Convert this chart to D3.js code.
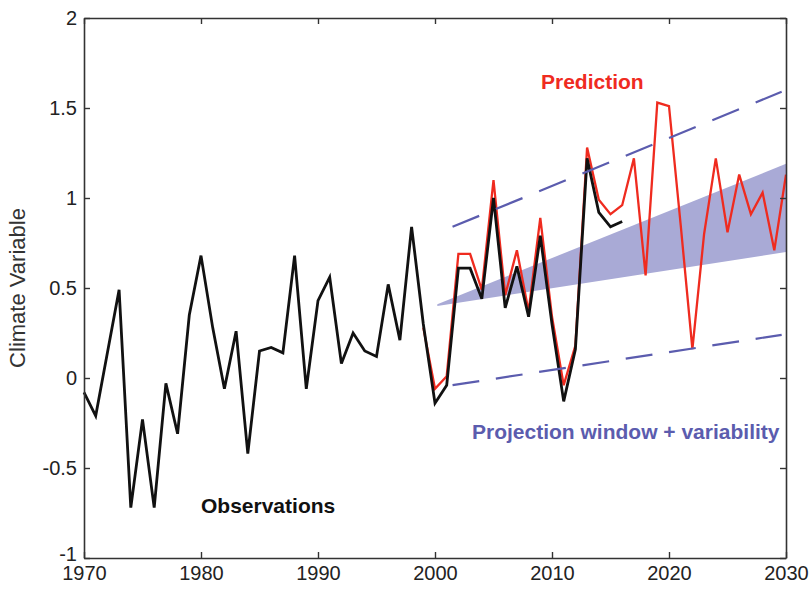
<!DOCTYPE html>
<html>
<head>
<meta charset="utf-8">
<script src="https://cdn.jsdelivr.net/npm/d3@7"></script>
<style>
  html, body { margin: 0; padding: 0; background: #fff; }
  svg { display: block; }
  text { font-family: "Liberation Sans", Arial, Helvetica, sans-serif; }
</style>
</head>
<body>
<svg id="chart" width="810" height="589"></svg>
<script>
// Observed series, 1970-2016
const obsYears = d3.range(1970, 2017);
const obsValues = [
  -0.08, -0.21, 0.14, 0.49, -0.72, -0.23, -0.72, -0.03, -0.31, 0.35,
   0.68,  0.28, -0.06, 0.26, -0.42, 0.15, 0.17, 0.14, 0.68, -0.06,
   0.43,  0.56, 0.08, 0.25, 0.15, 0.12, 0.52, 0.21, 0.84, 0.30,
  -0.14, -0.04, 0.61, 0.61, 0.44, 1.00, 0.39, 0.62, 0.34, 0.79,
   0.30, -0.13, 0.16, 1.22, 0.92, 0.84, 0.87
];

// Prediction series, 1999-2030
const predYears = d3.range(1999, 2031);
const predValues = [
   0.28, -0.06, 0.01, 0.69, 0.69, 0.49, 1.10, 0.46, 0.71, 0.37,
   0.89,  0.34, -0.04, 0.18, 1.28, 0.99, 0.91, 0.96, 1.22, 0.57,
   1.53,  1.51, 0.85, 0.16, 0.80, 1.22, 0.81, 1.13, 0.91, 1.03,
   0.71,  1.13
];

// Projection window (shaded wedge)
const bandYears = [2000.2, 2030];
const bandLower = [0.40, 0.70];
const bandUpper = [0.41, 1.19];

// Variability envelope (dashed lines)
const envYears = [2001.5, 2029.63];
const envUpper = [0.84, 1.59];
const envLower = [-0.04, 0.24];

// Axis ticks
const xTicks = [1970, 1980, 1990, 2000, 2010, 2020, 2030];
const yTicks = [-1, -0.5, 0, 0.5, 1, 1.5, 2];

const svg = d3.select("#chart");
const plotLeft = 84, plotRight = 786, plotTop = 18, plotBottom = 558;

const x = d3.scaleLinear().domain([1970, 2030]).range([plotLeft, plotRight]);
const y = d3.scaleLinear().domain([-1, 2]).range([plotBottom, plotTop]);

const blue = "#5b5cae";
const red = "#ef2b1f";

// shaded projection window
const band = bandYears.map((yr, i) => ({ yr, lo: bandLower[i], hi: bandUpper[i] }));
svg.append("path")
  .datum(band)
  .attr("fill", "#a9aad6")
  .attr("d", d3.area().x(d => x(d.yr)).y0(d => y(d.lo)).y1(d => y(d.hi)));

const line = d3.line().x(d => x(d[0])).y(d => y(d[1]));

// prediction
svg.append("path")
  .datum(predYears.map((yr, i) => [yr, predValues[i]]))
  .attr("fill", "none")
  .attr("stroke", red)
  .attr("stroke-width", 2.3)
  .attr("stroke-linejoin", "miter")
  .attr("d", line);

// observations
svg.append("path")
  .datum(obsYears.map((yr, i) => [yr, obsValues[i]]))
  .attr("fill", "none")
  .attr("stroke", "#111")
  .attr("stroke-width", 2.8)
  .attr("stroke-linejoin", "miter")
  .attr("d", line);

// variability envelope
svg.append("path")
  .datum(envYears.map((yr, i) => [yr, envUpper[i]]))
  .attr("fill", "none")
  .attr("stroke", blue)
  .attr("stroke-width", 2.2)
  .attr("stroke-dasharray", "28.8 18")
  .attr("d", line);
svg.append("path")
  .datum(envYears.map((yr, i) => [yr, envLower[i]]))
  .attr("fill", "none")
  .attr("stroke", blue)
  .attr("stroke-width", 2.2)
  .attr("stroke-dasharray", "27 16.8")
  .attr("d", line);

// axes: box with inward ticks on every side
const axisColor = "#333";
const fmtY = d => String(d);

const gBottom = svg.append("g").attr("transform", `translate(0,${plotBottom})`)
  .call(d3.axisBottom(x).tickValues(xTicks).tickFormat(d3.format("d")).tickSize(-6).tickSizeOuter(0).tickPadding(8));
const gLeft = svg.append("g").attr("transform", `translate(${plotLeft},0)`)
  .call(d3.axisLeft(y).tickValues(yTicks).tickFormat(fmtY).tickSize(-6).tickSizeOuter(0).tickPadding(7));
const gTop = svg.append("g").attr("transform", `translate(0,${plotTop})`)
  .call(d3.axisTop(x).tickValues(xTicks).tickFormat("").tickSize(-6).tickSizeOuter(0));
const gRight = svg.append("g").attr("transform", `translate(${plotRight},0)`)
  .call(d3.axisRight(y).tickValues(yTicks).tickFormat("").tickSize(-6).tickSizeOuter(0));

[gBottom, gLeft, gTop, gRight].forEach(g => {
  g.selectAll(".domain").attr("stroke", axisColor).attr("stroke-width", 1.6);
  g.selectAll(".tick line").attr("stroke", axisColor).attr("stroke-width", 1.4);
  g.selectAll(".tick text")
    .attr("fill", "#222")
    .style("font-size", "20px")
    .style("font-family", "'Liberation Sans', Arial, sans-serif");
});
// lowest y label sits just above the first year label
gLeft.selectAll(".tick text").filter(d => d === -1).attr("dy", "0.1em");

// y axis title
svg.append("text")
  .attr("transform", `translate(25,${y(0.5)}) rotate(-90)`)
  .attr("text-anchor", "middle")
  .attr("fill", "#333")
  .style("font-size", "22px")
  .text("Climate Variable");

// series annotations
svg.append("text")
  .attr("x", 541).attr("y", 89)
  .attr("fill", red)
  .style("font-size", "21px").style("font-weight", "bold")
  .text("Prediction");

svg.append("text")
  .attr("x", 472).attr("y", 439)
  .attr("fill", blue)
  .style("font-size", "21px").style("font-weight", "bold")
  .text("Projection window + variability");

svg.append("text")
  .attr("x", 201).attr("y", 513)
  .attr("fill", "#111")
  .style("font-size", "21px").style("font-weight", "bold")
  .text("Observations");
</script>
</body>
</html>
